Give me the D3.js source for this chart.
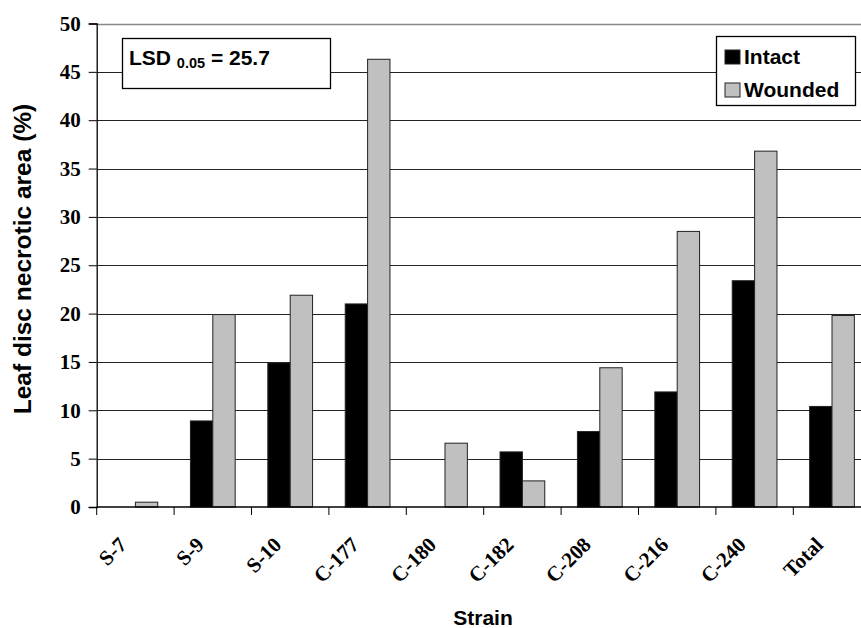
<!DOCTYPE html>
<head>
    <meta charset="utf-8">
    <title>Leaf disc necrotic area per strain</title>
    <style>
        html, body {
            margin: 0;
            background: white;
        }

        svg {
            display: block;
        }

        .sans {
            font-family: "Liberation Sans", Arial, sans-serif;
            font-weight: bold;
        }

        .serif {
            font-family: "Liberation Serif", "Times New Roman", serif;
            font-weight: bold;
        }
    </style>
</head>
<body>
<script src="https://cdn.jsdelivr.net/npm/d3@7"></script>
<script>

    const strains = ["S-7", "S-9", "S-10", "C-177", "C-180", "C-182", "C-208", "C-216", "C-240", "Total"];
    const series = ["Intact", "Wounded"];
    const intact = [0, 8.9, 14.9, 21.0, 0, 5.7, 7.8, 11.9, 23.4, 10.4];
    const wounded = [0.5, 19.9, 21.9, 46.3, 6.6, 2.7, 14.4, 28.5, 36.8, 19.8];
    const yTicks = [0, 5, 10, 15, 20, 25, 30, 35, 40, 45, 50];
    const colors = ["#000000", "#c0c0c0"];

    const width = 861,
        height = 628;

    const svg = d3.select("body").append("svg")
        .attr("width", width)
        .attr("height", height);

    // plot area runs past the right edge of the picture, like the original
    const left = 96.7,
        bandW = 77.4;

    const x0 = d3.scaleBand()
        .domain(strains)
        .range([left, left + bandW * strains.length]);

    const x1 = d3.scaleBand()
        .domain(series)
        .range([bandW * 0.211, bandW * 0.789]);

    const y = d3.scaleLinear()
        .domain([0, 50])
        .range([507, 23.5]);

    // gridlines
    svg.append("g")
        .selectAll("line")
        .data(yTicks.filter(d => d > 0))
        .enter().append("line")
        .attr("x1", left)
        .attr("x2", width)
        .attr("y1", d => Math.round(y(d)) + 0.5)
        .attr("y2", d => Math.round(y(d)) + 0.5)
        .attr("stroke", d => d === 50 ? "#888" : "#222")
        .attr("stroke-width", d => d === 50 ? 1.5 : 1);

    // bars
    const rows = strains.map((s, i) => ({strain: s, values: [intact[i], wounded[i]]}));

    svg.append("g")
        .selectAll("g")
        .data(rows)
        .enter().append("g")
        .attr("transform", d => `translate(${x0(d.strain)},0)`)
        .selectAll("rect")
        .data(d => d.values.map((v, j) => ({key: series[j], value: v, j: j})).filter(d => d.value > 0))
        .enter().append("rect")
        .attr("x", d => x1(d.key))
        .attr("y", d => y(d.value))
        .attr("width", x1.bandwidth())
        .attr("height", d => y(0) - y(d.value))
        .attr("fill", d => colors[d.j])
        .attr("stroke", "#222")
        .attr("stroke-width", 1);

    // y axis
    const yAxis = d3.axisLeft(y)
        .tickValues(yTicks)
        .tickSize(8)
        .tickPadding(8)
        .tickFormat(d3.format("d"));

    const gy = svg.append("g")
        .attr("transform", `translate(${left},0)`)
        .call(yAxis);
    gy.select(".domain").attr("stroke", "#000").attr("stroke-width", 1.3);
    gy.selectAll(".tick line").attr("stroke", "#000");
    gy.selectAll(".tick text")
        .attr("class", "serif")
        .attr("font-size", 21)
        .attr("fill", "#000");

    // x axis
    const gx = svg.append("g")
        .attr("transform", `translate(0,${y(0)})`);

    gx.append("line")
        .attr("x1", left)
        .attr("x2", width)
        .attr("stroke", "#000")
        .attr("stroke-width", 1.3);

    gx.selectAll("line.tick")
        .data(strains)
        .enter().append("line")
        .attr("class", "tick")
        .attr("x1", d => x0(d))
        .attr("x2", d => x0(d))
        .attr("y1", 0)
        .attr("y2", 8)
        .attr("stroke", "#000");

    gx.selectAll("text")
        .data(strains)
        .enter().append("text")
        .attr("class", "serif")
        .attr("font-size", 21)
        .attr("text-anchor", "end")
        .attr("transform", d => `translate(${x0(d) + x0.bandwidth() / 2 - 7.5},39) rotate(-45)`)
        .text(d => d);

    // axis titles
    svg.append("text")
        .attr("class", "sans")
        .attr("font-size", 21)
        .attr("text-anchor", "middle")
        .attr("x", 483)
        .attr("y", 625)
        .text("Strain");

    svg.append("text")
        .attr("class", "sans")
        .attr("font-size", 24.5)
        .attr("text-anchor", "middle")
        .attr("transform", "translate(31,259) rotate(-90)")
        .text("Leaf disc necrotic area (%)");

    // LSD box
    const lsd = svg.append("g");
    lsd.append("rect")
        .attr("x", 122.5)
        .attr("y", 38.5)
        .attr("width", 208)
        .attr("height", 50)
        .attr("fill", "white")
        .attr("stroke", "#000")
        .attr("stroke-width", 1.3);
    const lsdText = lsd.append("text")
        .attr("class", "sans")
        .attr("font-size", 21)
        .attr("x", 129)
        .attr("y", 65);
    lsdText.append("tspan").text("LSD ");
    lsdText.append("tspan").attr("font-size", 14.5).attr("dy", 3).text("0.05");
    lsdText.append("tspan").attr("dy", -3).text(" = 25.7");

    // legend
    const legend = svg.append("g");
    legend.append("rect")
        .attr("x", 716.5)
        .attr("y", 36.5)
        .attr("width", 139)
        .attr("height", 69)
        .attr("fill", "white")
        .attr("stroke", "#000")
        .attr("stroke-width", 1.3);

    const items = legend.selectAll("g")
        .data(series)
        .enter().append("g")
        .attr("transform", (d, i) => `translate(725,${50 + i * 33})`);

    items.append("rect")
        .attr("width", 15)
        .attr("height", 14)
        .attr("fill", (d, i) => colors[i])
        .attr("stroke", "#222")
        .attr("stroke-width", 1);

    items.append("text")
        .attr("class", "sans")
        .attr("font-size", 21)
        .attr("x", 19)
        .attr("y", 13.5)
        .text(d => d);

</script>
</body>
